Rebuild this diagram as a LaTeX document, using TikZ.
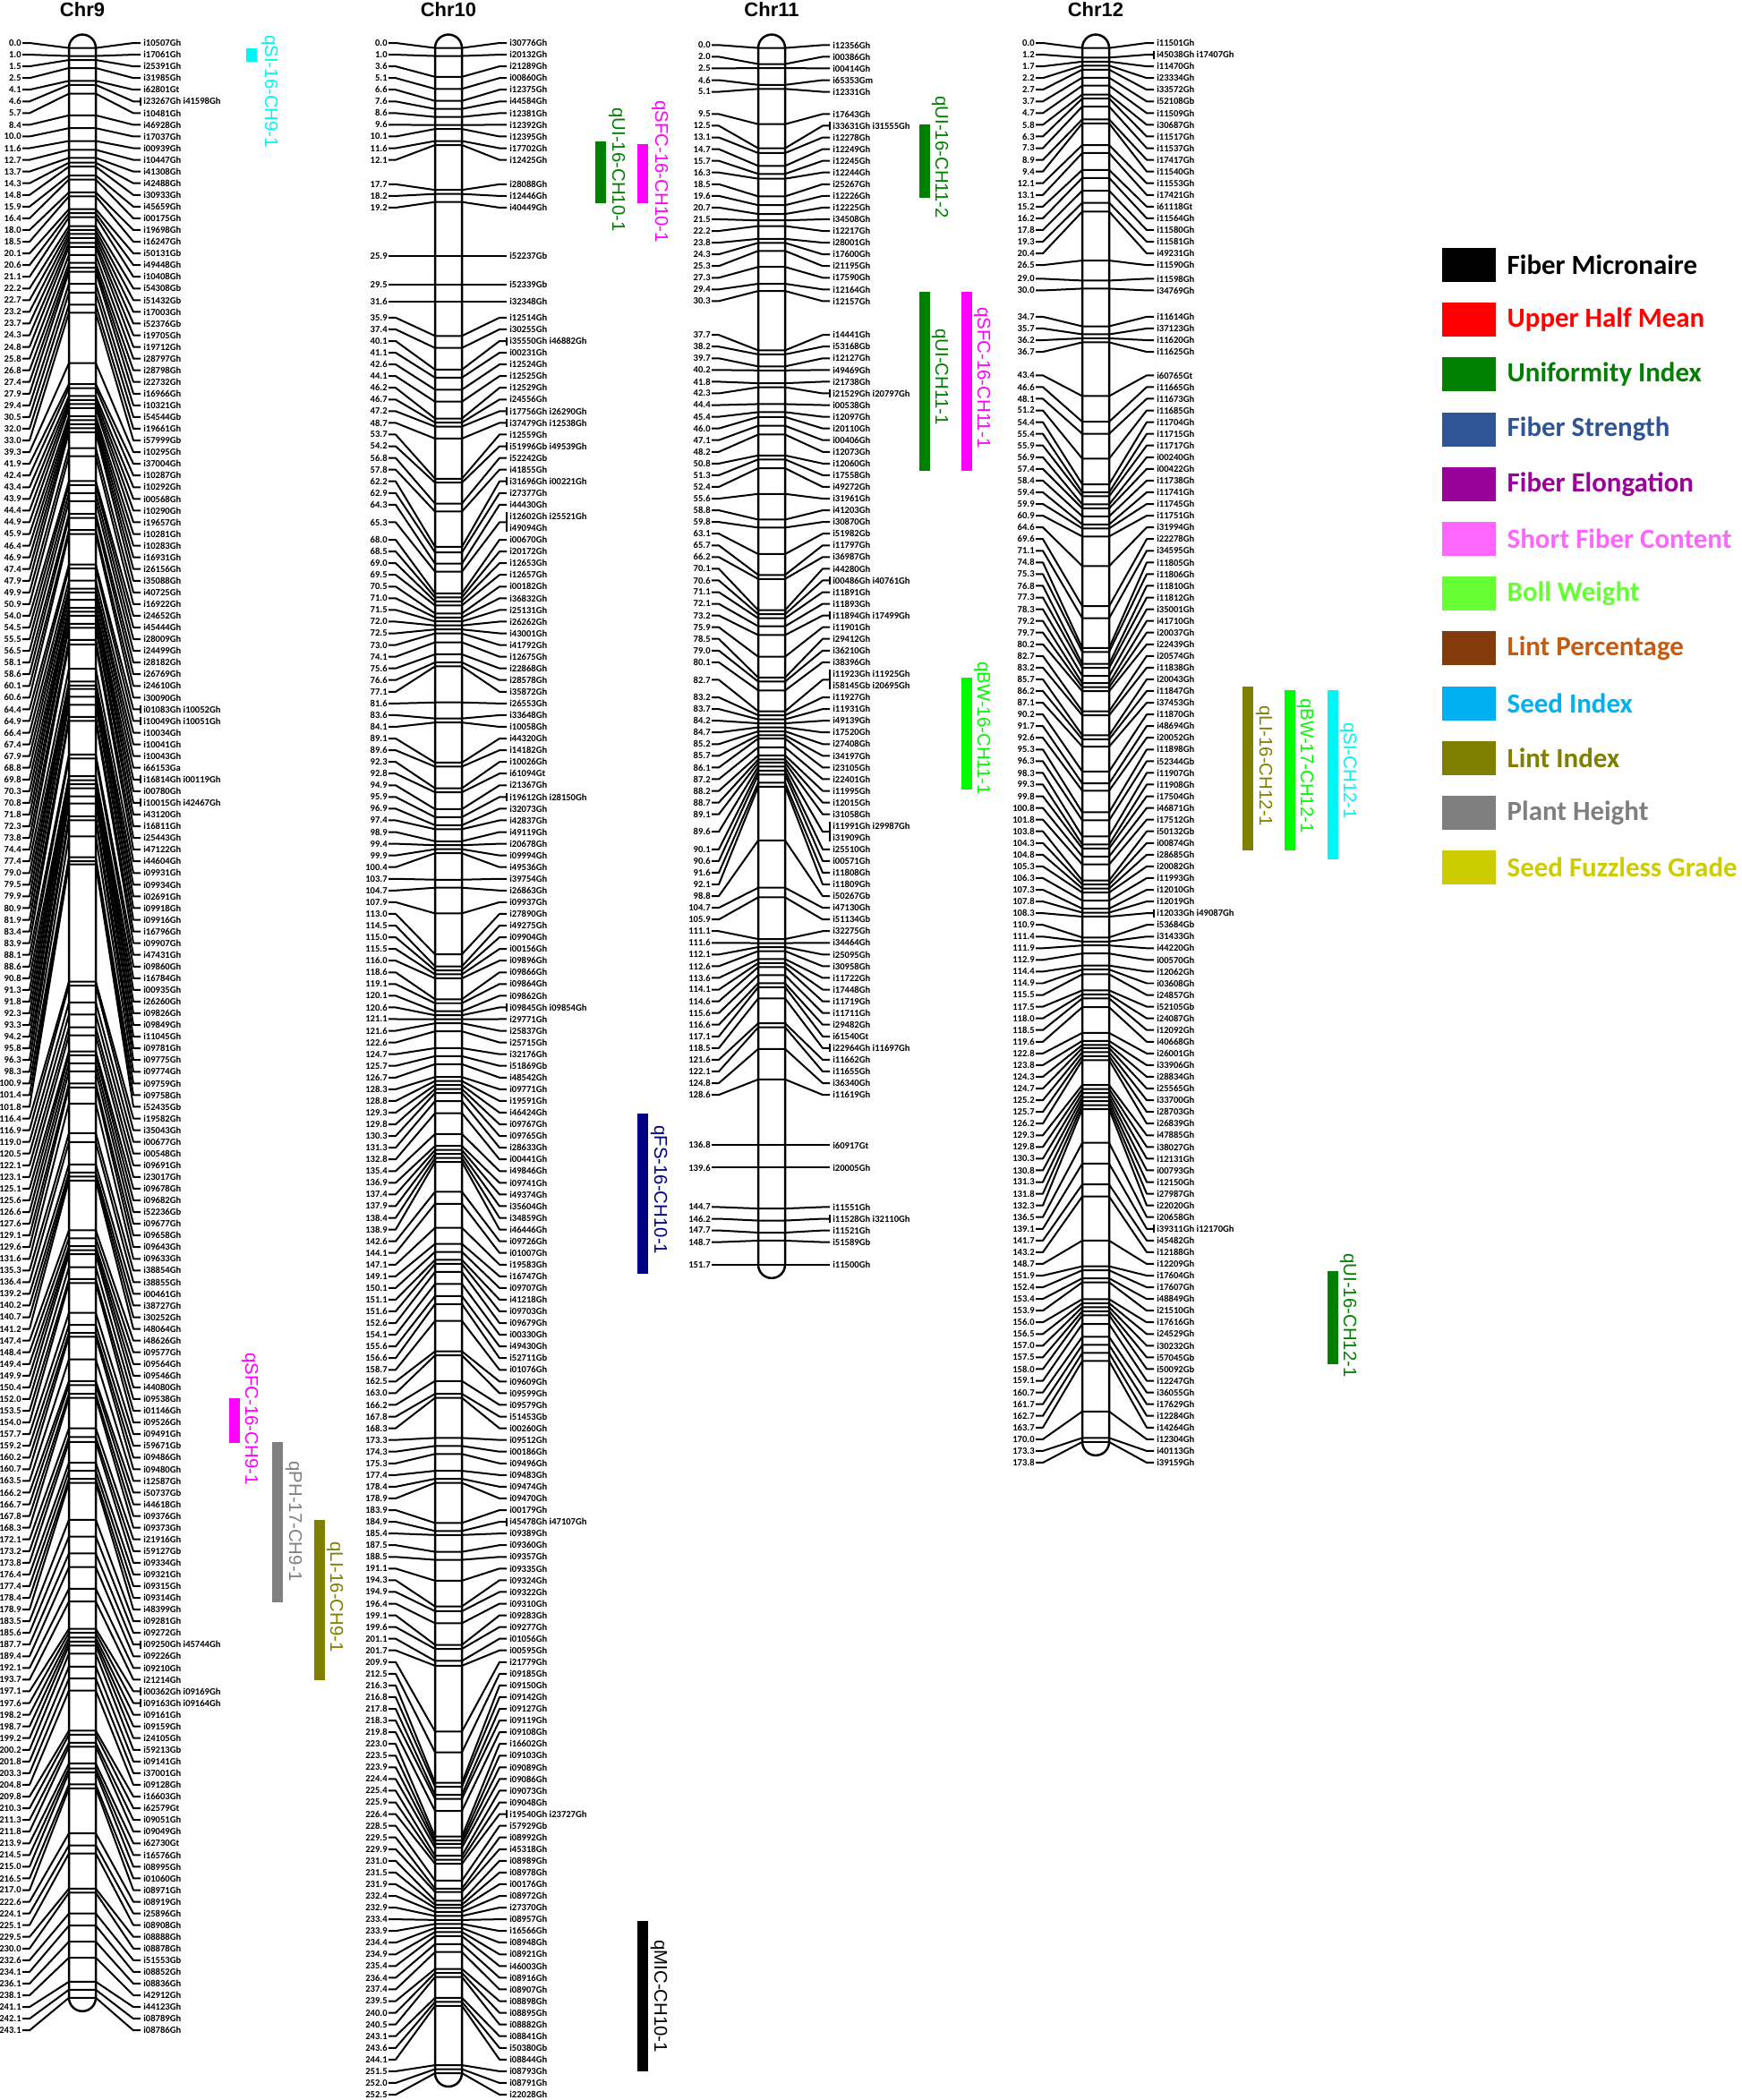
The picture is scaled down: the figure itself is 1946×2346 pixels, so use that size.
\documentclass[tikz,border=0pt]{standalone}
\usepackage{fontspec}
\setmainfont{Liberation Sans}
\newfontfamily\mkfont{Carlito}
\usepackage{xcolor}
\usepackage{tikz}
\usetikzlibrary{positioning}

% legend colours
\definecolor{lgMIC}{RGB}{0,0,0}
\definecolor{lgUHM}{RGB}{255,0,0}
\definecolor{lgUI}{RGB}{0,128,0}
\definecolor{lgFS}{RGB}{47,85,151}
\definecolor{lgFE}{RGB}{153,0,153}
\definecolor{lgSFC}{RGB}{255,102,255}
\definecolor{lgBW}{RGB}{102,255,51}
\definecolor{lgLP}{RGB}{132,60,12}
\definecolor{lgLPt}{RGB}{197,90,17}
\definecolor{lgSI}{RGB}{0,176,240}
\definecolor{lgLI}{RGB}{128,128,0}
\definecolor{lgPH}{RGB}{127,127,127}
\definecolor{lgSFG}{RGB}{204,204,0}
% qtl colours
\definecolor{qtlSI}{RGB}{0,245,245}
\definecolor{qtlSFC}{RGB}{255,0,255}
\definecolor{qtlPH}{RGB}{128,128,128}
\definecolor{qtlLI}{RGB}{128,128,0}
\definecolor{qtlUI}{RGB}{0,128,0}
\definecolor{qtlFS}{RGB}{0,0,128}
\definecolor{qtlBW}{RGB}{0,250,0}
\definecolor{qtlMIC}{RGB}{0,0,0}

% map scale in px: tick y = \yzero + \ycm * cM
\def\yzero{53.6}
\def\ycm{8.96}
\def\sep{13.06}
\def\ytop{48}
\def\ybot{2340}

\newcount\nmk
\newcount\gw
\newcount\gr
\newcount\gn
\newif\ifgchanged
\newcommand\setv[2]{\expandafter\xdef\csname#1\endcsname{#2}}
\newcommand\getv[1]{\csname#1\endcsname}

% store one chromosome: \mkr{cM}{rows}{names}, rows 0 = one name, 1 = names on one row, 2 = two rows
\newcommand\loadchr[2]{%
  \global\nmk=0
  \def\mkr##1##2##3{%
    \global\advance\nmk by 1
    \setv{c#1-\the\nmk}{##1}%
    \setv{h#1-\the\nmk}{##2}%
    \expandafter\gdef\csname t#1-\the\nmk\endcsname{##3}}%
  #2%
  \setv{n#1}{\the\nmk}}

% a label group is centred on its outer ticks
\newcommand\gzcalc[2]{\fpeval{max(min((\getv{y#1-\getv{ga#2}}+\getv{y#1-\getv{gb#2}})/2,\zub),\ytop)}}

% one pass joining groups whose labels overlap; repeat until none do
\newcommand\clusterpass[1]{%
  \global\gchangedfalse
  \global\gw=1 \global\gr=1
  \loop\ifnum\gr<\gn
    \global\advance\gr by 1
    \ifnum\fpeval{\getv{gz\the\gw} > \getv{gz\the\gr}+0.001}=1
      \setv{gb\the\gw}{\getv{gb\the\gr}}%
      \setv{gz\the\gw}{\gzcalc{#1}{\the\gw}}%
      \global\gchangedtrue
    \else
      \global\advance\gw by 1
      \setv{ga\the\gw}{\getv{ga\the\gr}}%
      \setv{gb\the\gw}{\getv{gb\the\gr}}%
      \setv{gz\the\gw}{\getv{gz\the\gr}}%
    \fi
  \repeat
  \global\gn=\gw
  \ifgchanged\def\cpnext{\clusterpass{#1}}\else\def\cpnext{}\fi
  \cpnext}

% label positions
\newcommand\layoutchr[1]{%
  \edef\mnum{\getv{n#1}}%
  \foreach \i in {1,...,\mnum}{%
    \edef\mrows{\ifnum\getv{h#1-\i}=2 2\else 1\fi}%
    \ifnum\i=1 \gdef\Sacc{0}\else
      \xdef\Sacc{\fpeval{\Sacc+\sep*(\hprev+\mrows)/2}}\fi
    \xdef\hprev{\mrows}%
    \setv{S#1-\i}{\Sacc}%
    \setv{T#1-\i}{\fpeval{round(\yzero+\ycm*\getv{c#1-\i},3)}}%
    \setv{y#1-\i}{\fpeval{\getv{T#1-\i}-\Sacc}}%
  }%
  \edef\zub{\fpeval{\ybot-\Sacc}}%
  \foreach \i in {1,...,\mnum}{%
    \setv{ga\i}{\i}\setv{gb\i}{\i}%
    \setv{gz\i}{\fpeval{max(min(\getv{y#1-\i},\zub),\ytop)}}}%
  \global\gn=\mnum\relax
  \clusterpass{#1}%
  \edef\ngr{\the\gn}%
  \foreach \j in {1,...,\ngr}{%
    \edef\gfa{\getv{ga\j}}\edef\gfb{\getv{gb\j}}\edef\gzz{\getv{gz\j}}%
    \foreach \i in {\gfa,...,\gfb}{%
      \setv{L#1-\i}{\fpeval{round(\gzz+\getv{S#1-\i},3)}}}}}

% draw one chromosome: id, left edge of bar, title
\newcommand\drawchr[3]{%
  \edef\mnum{\getv{n#1}}%
  \edef\tbot{\getv{T#1-\mnum}}%
  \node[chrtitle] (title#1) at (#2+15,18) {#3};
  \foreach \i in {1,...,\mnum}{%
    \edef\tky{\getv{T#1-\i}}%
    \edef\lby{\getv{L#1-\i}}%
    \coordinate (tl#1-\i) at (#2,\tky);
    \coordinate (tr#1-\i) at (#2+30,\tky);
    \node[cmlab] (cm#1-\i) at (#2-52,\lby) {\getv{c#1-\i}};
    \node[mklab] (mk#1-\i) at (#2+82,\lby) {\getv{t#1-\i}};
    \draw[link] (cm#1-\i.east) -- ++(8,0) -- (tl#1-\i) -- (tr#1-\i)
      -- ([xshift=-0.2cm]mk#1-\i.west) -- ([xshift=-0.04cm]mk#1-\i.west);
    \ifnum\getv{h#1-\i}>0
      \edef\bh{\ifnum\getv{h#1-\i}=2 0.22cm\else 0.09cm\fi}%
      \draw[link] ([xshift=-0.04cm,yshift=\bh]mk#1-\i.west) -- ([xshift=-0.04cm,yshift=-\bh]mk#1-\i.west);
    \fi
  }
  \draw[chrbar] (#2,\yzero-15) rectangle (#2+30,\tbot+15);
}

% ---- data ----
\def\chrIX{%
\mkr{0.0}{0}{i10507Gh}\mkr{1.0}{0}{i17061Gh}\mkr{1.5}{0}{i25391Gh}\mkr{2.5}{0}{i31985Gh}
\mkr{4.1}{0}{i62801Gt}\mkr{4.6}{1}{i23267Gh i41598Gh}\mkr{5.7}{0}{i10481Gh}\mkr{8.4}{0}{i46928Gh}
\mkr{10.0}{0}{i17037Gh}\mkr{11.6}{0}{i00939Gh}\mkr{12.7}{0}{i10447Gh}\mkr{13.7}{0}{i41308Gh}
\mkr{14.3}{0}{i42488Gh}\mkr{14.8}{0}{i30933Gh}\mkr{15.9}{0}{i45659Gh}\mkr{16.4}{0}{i00175Gh}
\mkr{18.0}{0}{i19698Gh}\mkr{18.5}{0}{i16247Gh}\mkr{20.1}{0}{i50131Gb}\mkr{20.6}{0}{i49448Gh}
\mkr{21.1}{0}{i10408Gh}\mkr{22.2}{0}{i54308Gb}\mkr{22.7}{0}{i51432Gb}\mkr{23.2}{0}{i17003Gh}
\mkr{23.7}{0}{i52376Gb}\mkr{24.3}{0}{i19705Gh}\mkr{24.8}{0}{i19712Gh}\mkr{25.8}{0}{i28797Gh}
\mkr{26.8}{0}{i28798Gh}\mkr{27.4}{0}{i22732Gh}\mkr{27.9}{0}{i16966Gh}\mkr{29.4}{0}{i10321Gh}
\mkr{30.5}{0}{i54544Gb}\mkr{32.0}{0}{i19661Gh}\mkr{33.0}{0}{i57999Gb}\mkr{39.3}{0}{i10295Gh}
\mkr{41.9}{0}{i37004Gh}\mkr{42.4}{0}{i10287Gh}\mkr{43.4}{0}{i10292Gh}\mkr{43.9}{0}{i00568Gh}
\mkr{44.4}{0}{i10290Gh}\mkr{44.9}{0}{i19657Gh}\mkr{45.9}{0}{i10281Gh}\mkr{46.4}{0}{i10283Gh}
\mkr{46.9}{0}{i16931Gh}\mkr{47.4}{0}{i26156Gh}\mkr{47.9}{0}{i35088Gh}\mkr{49.9}{0}{i40725Gh}
\mkr{50.9}{0}{i16922Gh}\mkr{54.0}{0}{i24652Gh}\mkr{54.5}{0}{i45444Gh}\mkr{55.5}{0}{i28009Gh}
\mkr{56.5}{0}{i24499Gh}\mkr{58.1}{0}{i28182Gh}\mkr{58.6}{0}{i26769Gh}\mkr{60.1}{0}{i24610Gh}
\mkr{60.6}{0}{i30090Gh}\mkr{64.4}{1}{i01083Gh i10052Gh}\mkr{64.9}{1}{i10049Gh i10051Gh}\mkr{66.4}{0}{i10034Gh}
\mkr{67.4}{0}{i10041Gh}\mkr{67.9}{0}{i10043Gh}\mkr{68.8}{0}{i66153Ga}\mkr{69.8}{1}{i16814Gh i00119Gh}
\mkr{70.3}{0}{i00780Gh}\mkr{70.8}{1}{i10015Gh i42467Gh}\mkr{71.8}{0}{i43120Gh}\mkr{72.3}{0}{i16811Gh}
\mkr{73.8}{0}{i25443Gh}\mkr{74.4}{0}{i47122Gh}\mkr{77.4}{0}{i44604Gh}\mkr{79.0}{0}{i09931Gh}
\mkr{79.5}{0}{i09934Gh}\mkr{79.9}{0}{i02691Gh}\mkr{80.9}{0}{i09918Gh}\mkr{81.9}{0}{i09916Gh}
\mkr{83.4}{0}{i16796Gh}\mkr{83.9}{0}{i09907Gh}\mkr{88.1}{0}{i47431Gh}\mkr{88.6}{0}{i09860Gh}
\mkr{90.8}{0}{i16784Gh}\mkr{91.3}{0}{i00935Gh}\mkr{91.8}{0}{i26260Gh}\mkr{92.3}{0}{i09826Gh}
\mkr{93.3}{0}{i09849Gh}\mkr{94.2}{0}{i11045Gh}\mkr{95.8}{0}{i09781Gh}\mkr{96.3}{0}{i09775Gh}
\mkr{98.3}{0}{i09774Gh}\mkr{100.9}{0}{i09759Gh}\mkr{101.4}{0}{i09758Gh}\mkr{101.8}{0}{i52435Gb}
\mkr{116.4}{0}{i19582Gh}\mkr{116.9}{0}{i35043Gh}\mkr{119.0}{0}{i00677Gh}\mkr{120.5}{0}{i00548Gh}
\mkr{122.1}{0}{i09691Gh}\mkr{123.1}{0}{i23017Gh}\mkr{125.1}{0}{i09678Gh}\mkr{125.6}{0}{i09682Gh}
\mkr{126.6}{0}{i52236Gb}\mkr{127.6}{0}{i09677Gh}\mkr{129.1}{0}{i09658Gh}\mkr{129.6}{0}{i09643Gh}
\mkr{131.6}{0}{i09633Gh}\mkr{135.3}{0}{i38854Gh}\mkr{136.4}{0}{i38855Gh}\mkr{139.2}{0}{i00461Gh}
\mkr{140.2}{0}{i38727Gh}\mkr{140.7}{0}{i30252Gh}\mkr{141.2}{0}{i48064Gh}\mkr{147.4}{0}{i48626Gh}
\mkr{148.4}{0}{i09577Gh}\mkr{149.4}{0}{i09564Gh}\mkr{149.9}{0}{i09546Gh}\mkr{150.4}{0}{i44080Gh}
\mkr{152.0}{0}{i09538Gh}\mkr{153.5}{0}{i01146Gh}\mkr{154.0}{0}{i09526Gh}\mkr{157.7}{0}{i09491Gh}
\mkr{159.2}{0}{i59671Gb}\mkr{160.2}{0}{i09486Gh}\mkr{160.7}{0}{i09480Gh}\mkr{163.5}{0}{i12587Gh}
\mkr{166.2}{0}{i50737Gb}\mkr{166.7}{0}{i44618Gh}\mkr{167.8}{0}{i09376Gh}\mkr{168.3}{0}{i09373Gh}
\mkr{172.1}{0}{i21916Gh}\mkr{173.2}{0}{i59127Gb}\mkr{173.8}{0}{i09334Gh}\mkr{176.4}{0}{i09321Gh}
\mkr{177.4}{0}{i09315Gh}\mkr{178.4}{0}{i09314Gh}\mkr{178.9}{0}{i48399Gh}\mkr{183.5}{0}{i09281Gh}
\mkr{185.6}{0}{i09272Gh}\mkr{187.7}{1}{i09250Gh i45744Gh}\mkr{189.4}{0}{i09226Gh}\mkr{192.1}{0}{i09210Gh}
\mkr{193.7}{0}{i21214Gh}\mkr{197.1}{1}{i00362Gh i09169Gh}\mkr{197.6}{1}{i09163Gh i09164Gh}\mkr{198.2}{0}{i09161Gh}
\mkr{198.7}{0}{i09159Gh}\mkr{199.2}{0}{i24105Gh}\mkr{200.2}{0}{i59213Gb}\mkr{201.8}{0}{i09141Gh}
\mkr{203.3}{0}{i37001Gh}\mkr{204.8}{0}{i09128Gh}\mkr{209.8}{0}{i16603Gh}\mkr{210.3}{0}{i62579Gt}
\mkr{211.3}{0}{i09051Gh}\mkr{211.8}{0}{i09049Gh}\mkr{213.9}{0}{i62730Gt}\mkr{214.5}{0}{i16576Gh}
\mkr{215.0}{0}{i08995Gh}\mkr{216.5}{0}{i01060Gh}\mkr{217.0}{0}{i08971Gh}\mkr{222.6}{0}{i08919Gh}
\mkr{224.1}{0}{i25896Gh}\mkr{225.1}{0}{i08908Gh}\mkr{229.5}{0}{i08888Gh}\mkr{230.0}{0}{i08878Gh}
\mkr{232.6}{0}{i51553Gb}\mkr{234.1}{0}{i08852Gh}\mkr{236.1}{0}{i08836Gh}\mkr{238.1}{0}{i42912Gh}
\mkr{241.1}{0}{i44123Gh}\mkr{242.1}{0}{i08789Gh}\mkr{243.1}{0}{i08786Gh}}

\def\chrX{%
\mkr{0.0}{0}{i30776Gh}\mkr{1.0}{0}{i20132Gh}\mkr{3.6}{0}{i21289Gh}\mkr{5.1}{0}{i00860Gh}
\mkr{6.6}{0}{i12375Gh}\mkr{7.6}{0}{i44584Gh}\mkr{8.6}{0}{i12381Gh}\mkr{9.6}{0}{i12392Gh}
\mkr{10.1}{0}{i12395Gh}\mkr{11.6}{0}{i17702Gh}\mkr{12.1}{0}{i12425Gh}\mkr{17.7}{0}{i28088Gh}
\mkr{18.2}{0}{i12446Gh}\mkr{19.2}{0}{i40449Gh}\mkr{25.9}{0}{i52237Gb}\mkr{29.5}{0}{i52339Gb}
\mkr{31.6}{0}{i32348Gh}\mkr{35.9}{0}{i12514Gh}\mkr{37.4}{0}{i30255Gh}\mkr{40.1}{1}{i35550Gh i46882Gh}
\mkr{41.1}{0}{i00231Gh}\mkr{42.6}{0}{i12524Gh}\mkr{44.1}{0}{i12525Gh}\mkr{46.2}{0}{i12529Gh}
\mkr{46.7}{0}{i24556Gh}\mkr{47.2}{1}{i17756Gh i26290Gh}\mkr{48.7}{1}{i37479Gh i12538Gh}\mkr{53.7}{0}{i12559Gh}
\mkr{54.2}{1}{i51996Gb i49539Gh}\mkr{56.8}{0}{i52242Gb}\mkr{57.8}{0}{i41855Gh}\mkr{62.2}{1}{i31696Gh i00221Gh}
\mkr{62.9}{0}{i27377Gh}\mkr{64.3}{0}{i44430Gh}\mkr{65.3}{2}{i12602Gh i25521Gh\\i49094Gh}\mkr{68.0}{0}{i00670Gh}
\mkr{68.5}{0}{i20172Gh}\mkr{69.0}{0}{i12653Gh}\mkr{69.5}{0}{i12657Gh}\mkr{70.5}{0}{i00182Gh}
\mkr{71.0}{0}{i36832Gh}\mkr{71.5}{0}{i25131Gh}\mkr{72.0}{0}{i26262Gh}\mkr{72.5}{0}{i43001Gh}
\mkr{73.0}{0}{i41792Gh}\mkr{74.1}{0}{i12675Gh}\mkr{75.6}{0}{i22868Gh}\mkr{76.6}{0}{i28578Gh}
\mkr{77.1}{0}{i35872Gh}\mkr{81.6}{0}{i26553Gh}\mkr{83.6}{0}{i33648Gh}\mkr{84.1}{0}{i10058Gh}
\mkr{89.1}{0}{i44320Gh}\mkr{89.6}{0}{i14182Gh}\mkr{92.3}{0}{i10026Gh}\mkr{92.8}{0}{i61094Gt}
\mkr{94.9}{0}{i21367Gh}\mkr{95.9}{1}{i19612Gh i28150Gh}\mkr{96.9}{0}{i32073Gh}\mkr{97.4}{0}{i42837Gh}
\mkr{98.9}{0}{i49119Gh}\mkr{99.4}{0}{i20678Gh}\mkr{99.9}{0}{i09994Gh}\mkr{100.4}{0}{i49536Gh}
\mkr{103.7}{0}{i39754Gh}\mkr{104.7}{0}{i26863Gh}\mkr{107.9}{0}{i09937Gh}\mkr{113.0}{0}{i27890Gh}
\mkr{114.5}{0}{i49275Gh}\mkr{115.0}{0}{i09904Gh}\mkr{115.5}{0}{i00156Gh}\mkr{116.0}{0}{i09896Gh}
\mkr{118.6}{0}{i09866Gh}\mkr{119.1}{0}{i09864Gh}\mkr{120.1}{0}{i09862Gh}\mkr{120.6}{1}{i09845Gh i09854Gh}
\mkr{121.1}{0}{i29771Gh}\mkr{121.6}{0}{i25837Gh}\mkr{122.6}{0}{i25715Gh}\mkr{124.7}{0}{i32176Gh}
\mkr{125.7}{0}{i51869Gb}\mkr{126.7}{0}{i48542Gh}\mkr{128.3}{0}{i09771Gh}\mkr{128.8}{0}{i19591Gh}
\mkr{129.3}{0}{i46424Gh}\mkr{129.8}{0}{i09767Gh}\mkr{130.3}{0}{i09765Gh}\mkr{131.3}{0}{i28633Gh}
\mkr{132.8}{0}{i00441Gh}\mkr{135.4}{0}{i49846Gh}\mkr{136.9}{0}{i09741Gh}\mkr{137.4}{0}{i49374Gh}
\mkr{137.9}{0}{i35604Gh}\mkr{138.4}{0}{i34859Gh}\mkr{138.9}{0}{i46446Gh}\mkr{142.6}{0}{i09726Gh}
\mkr{144.1}{0}{i01007Gh}\mkr{147.1}{0}{i19583Gh}\mkr{149.1}{0}{i16747Gh}\mkr{150.1}{0}{i09707Gh}
\mkr{151.1}{0}{i41218Gh}\mkr{151.6}{0}{i09703Gh}\mkr{152.6}{0}{i09679Gh}\mkr{154.1}{0}{i00330Gh}
\mkr{155.6}{0}{i49430Gh}\mkr{156.6}{0}{i52711Gb}\mkr{158.7}{0}{i01076Gh}\mkr{162.5}{0}{i09609Gh}
\mkr{163.0}{0}{i09599Gh}\mkr{166.2}{0}{i09579Gh}\mkr{167.8}{0}{i51453Gb}\mkr{168.3}{0}{i00260Gh}
\mkr{173.3}{0}{i09512Gh}\mkr{174.3}{0}{i00186Gh}\mkr{175.3}{0}{i09496Gh}\mkr{177.4}{0}{i09483Gh}
\mkr{178.4}{0}{i09474Gh}\mkr{178.9}{0}{i09470Gh}\mkr{183.9}{0}{i00179Gh}\mkr{184.9}{1}{i45478Gh i47107Gh}
\mkr{185.4}{0}{i09389Gh}\mkr{187.5}{0}{i09360Gh}\mkr{188.5}{0}{i09357Gh}\mkr{191.1}{0}{i09335Gh}
\mkr{194.3}{0}{i09324Gh}\mkr{194.9}{0}{i09322Gh}\mkr{196.4}{0}{i09310Gh}\mkr{199.1}{0}{i09283Gh}
\mkr{199.6}{0}{i09277Gh}\mkr{201.1}{0}{i01056Gh}\mkr{201.7}{0}{i00595Gh}\mkr{209.9}{0}{i21779Gh}
\mkr{212.5}{0}{i09185Gh}\mkr{216.3}{0}{i09150Gh}\mkr{216.8}{0}{i09142Gh}\mkr{217.8}{0}{i09127Gh}
\mkr{218.3}{0}{i09119Gh}\mkr{219.8}{0}{i09108Gh}\mkr{223.0}{0}{i16602Gh}\mkr{223.5}{0}{i09103Gh}
\mkr{223.9}{0}{i09089Gh}\mkr{224.4}{0}{i09086Gh}\mkr{225.4}{0}{i09073Gh}\mkr{225.9}{0}{i09048Gh}
\mkr{226.4}{1}{i19540Gh i23727Gh}\mkr{228.5}{0}{i57929Gb}\mkr{229.5}{0}{i08992Gh}\mkr{229.9}{0}{i45318Gh}
\mkr{231.0}{0}{i08989Gh}\mkr{231.5}{0}{i08978Gh}\mkr{231.9}{0}{i00176Gh}\mkr{232.4}{0}{i08972Gh}
\mkr{232.9}{0}{i27370Gh}\mkr{233.4}{0}{i08957Gh}\mkr{233.9}{0}{i16566Gh}\mkr{234.4}{0}{i08948Gh}
\mkr{234.9}{0}{i08921Gh}\mkr{235.4}{0}{i46003Gh}\mkr{236.4}{0}{i08916Gh}\mkr{237.4}{0}{i08907Gh}
\mkr{239.5}{0}{i08898Gh}\mkr{240.0}{0}{i08895Gh}\mkr{240.5}{0}{i08882Gh}\mkr{243.1}{0}{i08841Gh}
\mkr{243.6}{0}{i50380Gb}\mkr{244.1}{0}{i08844Gh}\mkr{251.5}{0}{i08793Gh}\mkr{252.0}{0}{i08791Gh}
\mkr{252.5}{0}{i22028Gh}}

\def\chrXI{%
\mkr{0.0}{0}{i12356Gh}\mkr{2.0}{0}{i00386Gh}\mkr{2.5}{0}{i00414Gh}\mkr{4.6}{0}{i65353Gm}
\mkr{5.1}{0}{i12331Gh}\mkr{9.5}{0}{i17643Gh}\mkr{12.5}{1}{i33631Gh i31555Gh}\mkr{13.1}{0}{i12278Gh}
\mkr{14.7}{0}{i12249Gh}\mkr{15.7}{0}{i12245Gh}\mkr{16.3}{0}{i12244Gh}\mkr{18.5}{0}{i25267Gh}
\mkr{19.6}{0}{i12226Gh}\mkr{20.7}{0}{i12225Gh}\mkr{21.5}{0}{i34508Gh}\mkr{22.2}{0}{i12217Gh}
\mkr{23.8}{0}{i28001Gh}\mkr{24.3}{0}{i17600Gh}\mkr{25.3}{0}{i21195Gh}\mkr{27.3}{0}{i17590Gh}
\mkr{29.4}{0}{i12164Gh}\mkr{30.3}{0}{i12157Gh}\mkr{37.7}{0}{i14441Gh}\mkr{38.2}{0}{i53168Gb}
\mkr{39.7}{0}{i12127Gh}\mkr{40.2}{0}{i49469Gh}\mkr{41.8}{0}{i21738Gh}\mkr{42.3}{1}{i21529Gh i20797Gh}
\mkr{44.4}{0}{i00538Gh}\mkr{45.4}{0}{i12097Gh}\mkr{46.0}{0}{i20110Gh}\mkr{47.1}{0}{i00406Gh}
\mkr{48.2}{0}{i12073Gh}\mkr{50.8}{0}{i12060Gh}\mkr{51.3}{0}{i17558Gh}\mkr{52.4}{0}{i49272Gh}
\mkr{55.6}{0}{i31961Gh}\mkr{58.8}{0}{i41203Gh}\mkr{59.8}{0}{i30870Gh}\mkr{63.1}{0}{i51982Gb}
\mkr{65.7}{0}{i11797Gh}\mkr{66.2}{0}{i36987Gh}\mkr{70.1}{0}{i44280Gh}\mkr{70.6}{1}{i00486Gh i40761Gh}
\mkr{71.1}{0}{i11891Gh}\mkr{72.1}{0}{i11893Gh}\mkr{73.2}{1}{i11894Gh i17499Gh}\mkr{75.9}{0}{i11901Gh}
\mkr{78.5}{0}{i29412Gh}\mkr{79.0}{0}{i36210Gh}\mkr{80.1}{0}{i38396Gh}\mkr{82.7}{2}{i11923Gh i11925Gh\\i58145Gb i20695Gh}
\mkr{83.2}{0}{i11927Gh}\mkr{83.7}{0}{i11931Gh}\mkr{84.2}{0}{i49139Gh}\mkr{84.7}{0}{i17520Gh}
\mkr{85.2}{0}{i27408Gh}\mkr{85.7}{0}{i34197Gh}\mkr{86.1}{0}{i23105Gh}\mkr{87.2}{0}{i22401Gh}
\mkr{88.2}{0}{i11995Gh}\mkr{88.7}{0}{i12015Gh}\mkr{89.1}{0}{i31058Gh}\mkr{89.6}{2}{i11991Gh i29987Gh\\i31909Gh}
\mkr{90.1}{0}{i25510Gh}\mkr{90.6}{0}{i00571Gh}\mkr{91.6}{0}{i11808Gh}\mkr{92.1}{0}{i11809Gh}
\mkr{98.8}{0}{i50267Gb}\mkr{104.7}{0}{i47130Gh}\mkr{105.9}{0}{i51134Gb}\mkr{111.1}{0}{i32275Gh}
\mkr{111.6}{0}{i34464Gh}\mkr{112.1}{0}{i25095Gh}\mkr{112.6}{0}{i30958Gh}\mkr{113.6}{0}{i11722Gh}
\mkr{114.1}{0}{i17448Gh}\mkr{114.6}{0}{i11719Gh}\mkr{115.6}{0}{i11711Gh}\mkr{116.6}{0}{i29482Gh}
\mkr{117.1}{0}{i61540Gt}\mkr{118.5}{1}{i22964Gh i11697Gh}\mkr{121.6}{0}{i11662Gh}\mkr{122.1}{0}{i11655Gh}
\mkr{124.8}{0}{i36340Gh}\mkr{128.6}{0}{i11619Gh}\mkr{136.8}{0}{i60917Gt}\mkr{139.6}{0}{i20005Gh}
\mkr{144.7}{0}{i11551Gh}\mkr{146.2}{1}{i11528Gh i32110Gh}\mkr{147.7}{0}{i11521Gh}\mkr{148.7}{0}{i51589Gb}
\mkr{151.7}{0}{i11500Gh}}

\def\chrXII{%
\mkr{0.0}{0}{i11501Gh}\mkr{1.2}{1}{i45038Gh i17407Gh}\mkr{1.7}{0}{i11470Gh}\mkr{2.2}{0}{i23334Gh}
\mkr{2.7}{0}{i33572Gh}\mkr{3.7}{0}{i52108Gb}\mkr{4.7}{0}{i11509Gh}\mkr{5.8}{0}{i30687Gh}
\mkr{6.3}{0}{i11517Gh}\mkr{7.3}{0}{i11537Gh}\mkr{8.9}{0}{i17417Gh}\mkr{9.4}{0}{i11540Gh}
\mkr{12.1}{0}{i11553Gh}\mkr{13.1}{0}{i17421Gh}\mkr{15.2}{0}{i61118Gt}\mkr{16.2}{0}{i11564Gh}
\mkr{17.8}{0}{i11580Gh}\mkr{19.3}{0}{i11581Gh}\mkr{20.4}{0}{i49231Gh}\mkr{26.5}{0}{i11590Gh}
\mkr{29.0}{0}{i11598Gh}\mkr{30.0}{0}{i34769Gh}\mkr{34.7}{0}{i11614Gh}\mkr{35.7}{0}{i37123Gh}
\mkr{36.2}{0}{i11620Gh}\mkr{36.7}{0}{i11625Gh}\mkr{43.4}{0}{i60765Gt}\mkr{46.6}{0}{i11665Gh}
\mkr{48.1}{0}{i11673Gh}\mkr{51.2}{0}{i11685Gh}\mkr{54.4}{0}{i11704Gh}\mkr{55.4}{0}{i11715Gh}
\mkr{55.9}{0}{i11717Gh}\mkr{56.9}{0}{i00240Gh}\mkr{57.4}{0}{i00422Gh}\mkr{58.4}{0}{i11738Gh}
\mkr{59.4}{0}{i11741Gh}\mkr{59.9}{0}{i11745Gh}\mkr{60.9}{0}{i11751Gh}\mkr{64.6}{0}{i31994Gh}
\mkr{69.6}{0}{i22278Gh}\mkr{71.1}{0}{i34595Gh}\mkr{74.8}{0}{i11805Gh}\mkr{75.3}{0}{i11806Gh}
\mkr{76.8}{0}{i11810Gh}\mkr{77.3}{0}{i11812Gh}\mkr{78.3}{0}{i35001Gh}\mkr{79.2}{0}{i41710Gh}
\mkr{79.7}{0}{i20037Gh}\mkr{80.2}{0}{i22439Gh}\mkr{82.7}{0}{i20574Gh}\mkr{83.2}{0}{i11838Gh}
\mkr{85.7}{0}{i20043Gh}\mkr{86.2}{0}{i11847Gh}\mkr{87.1}{0}{i37453Gh}\mkr{90.2}{0}{i11870Gh}
\mkr{91.7}{0}{i48694Gh}\mkr{92.6}{0}{i20052Gh}\mkr{95.3}{0}{i11898Gh}\mkr{96.3}{0}{i52344Gb}
\mkr{98.3}{0}{i11907Gh}\mkr{99.3}{0}{i11908Gh}\mkr{99.8}{0}{i17504Gh}\mkr{100.8}{0}{i46871Gh}
\mkr{101.8}{0}{i17512Gh}\mkr{103.8}{0}{i50132Gb}\mkr{104.3}{0}{i00874Gh}\mkr{104.8}{0}{i28685Gh}
\mkr{105.3}{0}{i20082Gh}\mkr{106.3}{0}{i11993Gh}\mkr{107.3}{0}{i12010Gh}\mkr{107.8}{0}{i12019Gh}
\mkr{108.3}{1}{i12033Gh i49087Gh}\mkr{110.9}{0}{i53684Gb}\mkr{111.4}{0}{i31433Gh}\mkr{111.9}{0}{i44220Gh}
\mkr{112.9}{0}{i00570Gh}\mkr{114.4}{0}{i12062Gh}\mkr{114.9}{0}{i03608Gh}\mkr{115.5}{0}{i24857Gh}
\mkr{117.5}{0}{i52105Gb}\mkr{118.0}{0}{i24087Gh}\mkr{118.5}{0}{i12092Gh}\mkr{119.6}{0}{i40668Gh}
\mkr{122.8}{0}{i26001Gh}\mkr{123.8}{0}{i33906Gh}\mkr{124.3}{0}{i28834Gh}\mkr{124.7}{0}{i25565Gh}
\mkr{125.2}{0}{i33700Gh}\mkr{125.7}{0}{i28703Gh}\mkr{126.2}{0}{i26839Gh}\mkr{129.3}{0}{i47885Gh}
\mkr{129.8}{0}{i38027Gh}\mkr{130.3}{0}{i12131Gh}\mkr{130.8}{0}{i00793Gh}\mkr{131.3}{0}{i12150Gh}
\mkr{131.8}{0}{i27987Gh}\mkr{132.3}{0}{i22020Gh}\mkr{136.5}{0}{i20658Gh}\mkr{139.1}{1}{i39311Gh i12170Gh}
\mkr{141.7}{0}{i45482Gh}\mkr{143.2}{0}{i12188Gh}\mkr{148.7}{0}{i12209Gh}\mkr{151.9}{0}{i17604Gh}
\mkr{152.4}{0}{i17607Gh}\mkr{153.4}{0}{i48849Gh}\mkr{153.9}{0}{i21510Gh}\mkr{156.0}{0}{i17616Gh}
\mkr{156.5}{0}{i24529Gh}\mkr{157.0}{0}{i30232Gh}\mkr{157.5}{0}{i57045Gb}\mkr{158.0}{0}{i50092Gb}
\mkr{159.1}{0}{i12247Gh}\mkr{160.7}{0}{i36055Gh}\mkr{161.7}{0}{i17629Gh}\mkr{162.7}{0}{i12284Gh}
\mkr{163.7}{0}{i14264Gh}\mkr{170.0}{0}{i12304Gh}\mkr{173.3}{0}{i40113Gh}\mkr{173.8}{0}{i39159Gh}}

\begin{document}
\begin{tikzpicture}[x=0.02cm,y=-0.02cm,
  chrtitle/.style={font=\bfseries\fontsize{12.5}{14}\selectfont,anchor=base,inner sep=0},
  chrbar/.style={draw,line width=0.05cm,rounded corners=0.3cm},
  link/.style={line width=0.04cm,line join=round},
  cmlab/.style={font=\mkfont\bfseries\fontsize{6.03}{7.43}\selectfont,anchor=east,inner sep=0.02cm},
  mklab/.style={cmlab,anchor=west,align=left},
  qlab/.style={font=\fontsize{11.6}{13}\selectfont,rotate=-90,anchor=west,inner sep=0,text=#1},
  legbox/.style={fill=#1,minimum width=1.2cm,minimum height=0.76cm,inner sep=0},
  legtext/.style={font=\mkfont\bfseries\fontsize{17.6}{20}\selectfont,text=#1,anchor=west,inner sep=0}]
\useasboundingbox (0,0) rectangle (1946,2346);
% marker data and label layout
\loadchr{9}{\chrIX}\layoutchr{9}
\loadchr{10}{\chrX}\layoutchr{10}
\loadchr{11}{\chrXI}\layoutchr{11}
\loadchr{12}{\chrXII}\layoutchr{12}
% chromosomes
\drawchr{9}{77}{Chr9}
\drawchr{10}{486}{Chr10}
\drawchr{11}{847}{Chr11}
\drawchr{12}{1209}{Chr12}
% QTL bars: bar centre x / top / bottom / label x / label top / colour / name
\foreach \qx/\qa/\qb/\tx/\ty/\qc/\qn [count=\k] in {
  281/54/69/301/39/qtlSI/qSI-16-CH9-1,
  262/1562/1612/279/1511/qtlSFC/qSFC-16-CH9-1,
  310/1611/1790/328/1632/qtlPH/qPH-17-CH9-1,
  356.5/1698/1877/374/1722/qtlLI/qLI-16-CH9-1,
  671/158/227/689/120/qtlUI/qUI-16-CH10-1,
  718/161/227/737/112/qtlSFC/qSFC-16-CH10-1,
  718/1244/1423/736/1257/qtlFS/qFS-16-CH10-1,
  718/2146/2314/736/2167/qtlMIC/qMIC-CH10-1,
  1033/139/221/1050/107/qtlUI/qUI-16-CH11-2,
  1033/326/526/1050/367/qtlUI/qUI-CH11-1,
  1080/326/526/1097/343/qtlSFC/qSFC-16-CH11-1,
  1080/757/882/1097/739/qtlBW/qBW-16-CH11-1,
  1394/767/950/1412/788/qtlLI/qLI-16-CH12-1,
  1441/771/950/1458/780/qtlBW/qBW-17-CH12-1,
  1489/771/960/1506/807/qtlSI/qSI-CH12-1,
  1489/1420/1524/1506/1400/qtlUI/qUI-16-CH12-1}{
  \fill[\qc] (\qx-6,\qa) rectangle (\qx+6,\qb);
  \node[qlab=\qc] (qtl\k) at (\tx,\ty) {\qn};
}
% legend
\foreach \lname/\lbox/\ltext [count=\k from 0] in {
  Fiber Micronaire/lgMIC/lgMIC, Upper Half Mean/lgUHM/lgUHM,
  Uniformity Index/lgUI/lgUI, Fiber Strength/lgFS/lgFS,
  Fiber Elongation/lgFE/lgFE, Short Fiber Content/lgSFC/lgSFC,
  Boll Weight/lgBW/lgBW, Lint Percentage/lgLP/lgLPt,
  Seed Index/lgSI/lgSI, Lint Index/lgLI/lgLI,
  Plant Height/lgPH/lgPH, Seed Fuzzless Grade/lgSFG/lgSFG}{
  \node[legbox=\lbox] (box\k) at (1641,296+61.2*\k) {};
  \node[legtext=\ltext,right=0.24cm of box\k] (leg\k) {\lname};
}
\end{tikzpicture}
\end{document}
